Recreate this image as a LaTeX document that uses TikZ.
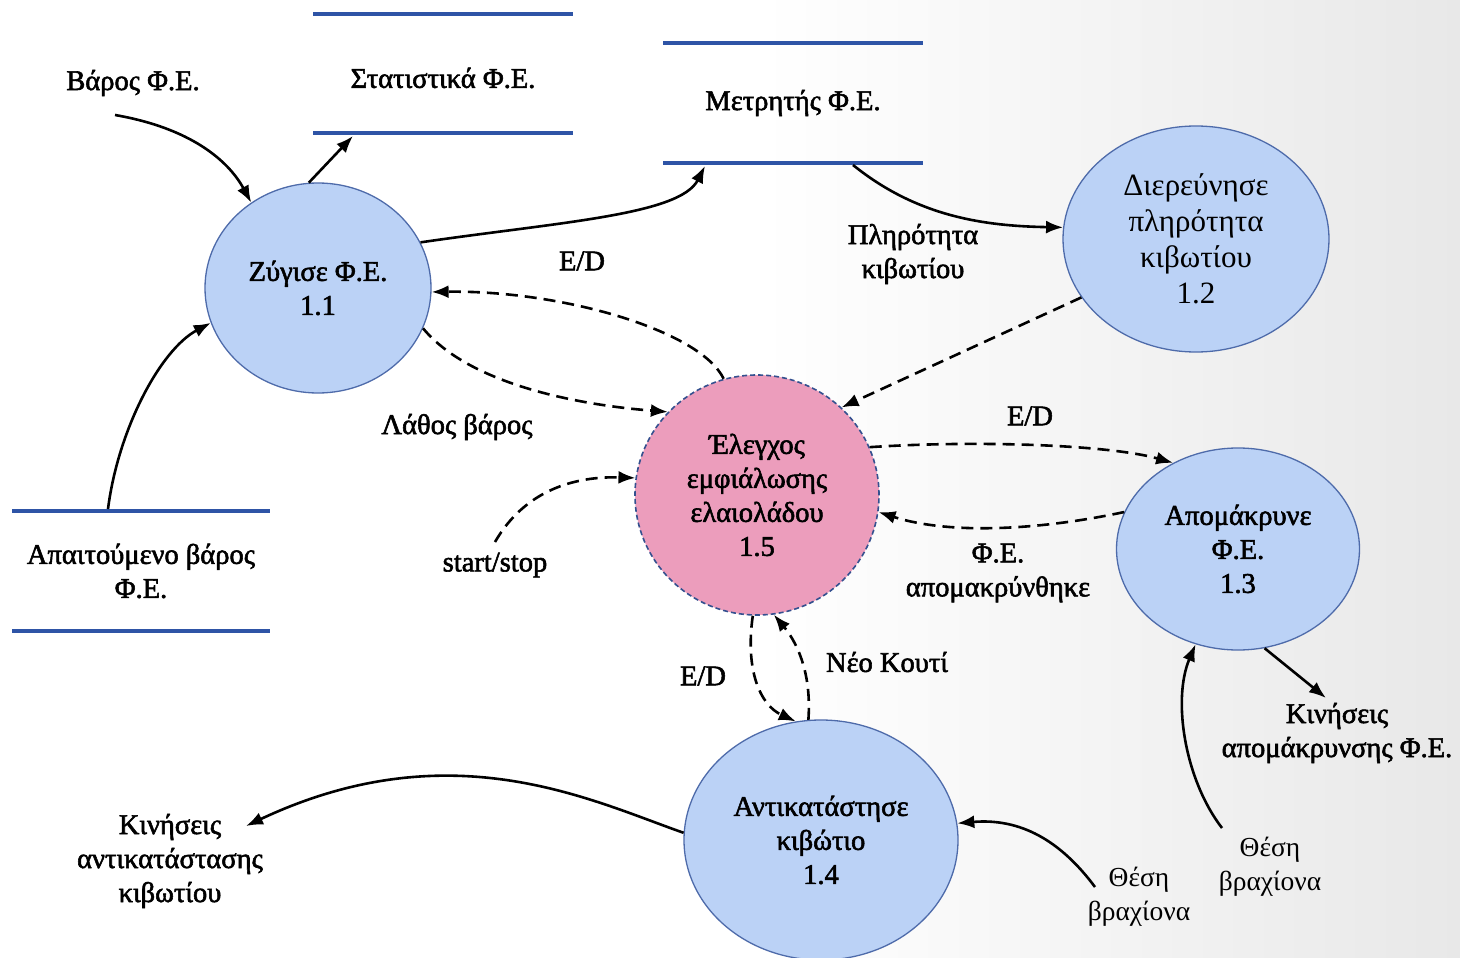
\documentclass[tikz,border=0pt]{standalone}
\usepackage{fontspec}
\setmainfont{Liberation Serif}
\newfontfamily\heavyserif{Liberation Serif}[FakeBold=2]
\usetikzlibrary{arrows.meta,shapes.geometric}
\definecolor{procfill}{HTML}{BBD2F6}
\definecolor{procline}{HTML}{4E6BAA}
\definecolor{ctrlfill}{HTML}{EC9DBC}
\definecolor{ctrlline}{HTML}{34508F}
\definecolor{storeline}{HTML}{2E54A6}
\begin{document}
\begin{tikzpicture}[x=1pt,y=-1pt,
  lbl/.style={font=\heavyserif\fontsize{28.5}{34}\selectfont, align=center, inner sep=0pt},
  lightlbl/.style={lbl, font=\fontsize{27.5}{34}\selectfont},
  proc/.style={ellipse, draw=procline, fill=procfill, line width=1.3pt, inner sep=0pt,
    align=center, font=\heavyserif\fontsize{28.5}{34}\selectfont},
  flow/.style={line width=2.6pt, -{Latex[length=17pt,width=13pt]}},
  ctrl/.style={flow, dash pattern=on 12pt off 7pt},
  store/.style={draw=storeline, line width=4pt}]

% page and soft background
\useasboundingbox (0,0) rectangle (1460,958);
\fill[white] (0,0) rectangle (1460,958);
\shade[left color=white, right color=black!9] (760,0) rectangle (1460,958);

% data stores
\draw[store] (313,14) -- (573,14);
\draw[store] (313,133) -- (573,133);
\node[lbl] (stat) at (443,78) {Στατιστικά Φ.Ε.};
\draw[store] (663,43) -- (923,43);
\draw[store] (663,163) -- (923,163);
\node[lbl] (cnt) at (793,103) {Μετρητής Φ.Ε.};
\draw[store] (12,511) -- (270,511);
\draw[store] (12,631) -- (270,631);
\node[lbl] (req) at (141,571) {Απαιτούμενο βάρος\\Φ.Ε.};

% processes
\node[proc, minimum width=226pt, minimum height=210pt] (p11) at (318,288) {Ζύγισε Φ.Ε.\\1.1};
\node[proc, font=\fontsize{31}{36}\selectfont, minimum width=266pt, minimum height=226pt] (p12) at (1196,239) {Διερεύνησε\\πληρότητα\\κιβωτίου\\1.2};
\node[proc, fill=ctrlfill, draw=ctrlline, line width=1.6pt, dash pattern=on 5pt off 3pt,
      minimum width=244pt, minimum height=240pt] (p15) at (757,495) {Έλεγχος\\εμφιάλωσης\\ελαιολάδου\\1.5};
\node[proc, minimum width=243pt, minimum height=202pt] (p13) at (1238,549) {Απομάκρυνε\\Φ.Ε.\\1.3};
\node[proc, minimum width=274pt, minimum height=240pt] (p14) at (821,840) {Αντικατάστησε\\κιβώτιο\\1.4};

% labels
\node[lbl] (varos) at (133,83) {Βάρος Φ.Ε.};
\node[lbl] (plir) at (913,254) {Πληρότητα\\κιβωτίου};
\node[lbl] (ed1) at (582,261) {E/D};
\node[lbl] (lathos) at (457,427) {Λάθος βάρος};
\node[lbl] (ed2) at (1030,416) {E/D};
\node[lbl] (fe) at (998,573) {Φ.Ε.\\απομακρύνθηκε};
\node[lbl] (ss) at (495,565) {start/stop};
\node[lbl] (ed3) at (703,676) {E/D};
\node[lbl] (neo) at (887,662) {Νέο Κουτί};
\node[lbl] (kin2) at (1337,733) {Κινήσεις\\απομάκρυνσης Φ.Ε.};
\node[lbl] (kin1) at (170,861) {Κινήσεις\\αντικατάστασης\\κιβωτίου};
\node[lightlbl] (th2) at (1270,867) {Θέση\\βραχίονα};
\node[lightlbl] (th1) at (1139,897) {Θέση\\βραχίονα};

% free ends of the flows
\coordinate (cvaros) at (115,115);
\coordinate (statin) at (353,136);
\coordinate (reqout) at (108,509);
\coordinate (cntin) at (705,166);
\coordinate (cntout) at (853,165);
\coordinate (cstart) at (495,542);
\coordinate (kin1in) at (246,826);
\coordinate (th1out) at (1095,887);
\coordinate (th2out) at (1222,828);
\coordinate (kin2in) at (1326,698);

% data flows
\draw[flow] (cvaros) .. controls (190,128) and (228,160) .. (p11.128);
\draw[flow] (p11.95) -- (statin);
\draw[flow] (reqout) .. controls (118,430) and (160,350) .. (p11.198);
\draw[flow] (p11.24) .. controls (560,222) and (680,215) .. (cntin);
\draw[flow] (cntout) .. controls (915,215) and (980,226) .. (p12.175);
\draw[flow] (p14.177) .. controls (590,800) and (450,730) .. (kin1in);
\draw[flow] (th1out) .. controls (1060,840) and (1020,818) .. (p14.7);
\draw[flow] (th2out) .. controls (1185,780) and (1172,700) .. (p13.246);
\draw[flow] (p13.285) -- (kin2in);

% control flows
\draw[ctrl] (p12.207) -- (p15.46);
\draw[ctrl] (p15.106) .. controls (700,330) and (560,290) .. (p11.358);
\draw[ctrl] (p11.339) .. controls (470,385) and (580,405) .. (p15.137);
\draw[ctrl] (p15.23) .. controls (980,440) and (1110,445) .. (p13.127);
\draw[ctrl] (p13.162) .. controls (1040,530) and (950,535) .. (p15.352);
\draw[ctrl] (cstart) .. controls (525,490) and (575,476) .. (p15.172);
\draw[ctrl] (p15.268) .. controls (745,670) and (760,705) .. (p14.102);
\draw[ctrl] (p14.96) .. controls (812,670) and (795,640) .. (p15.278);
\end{tikzpicture}
\end{document}
